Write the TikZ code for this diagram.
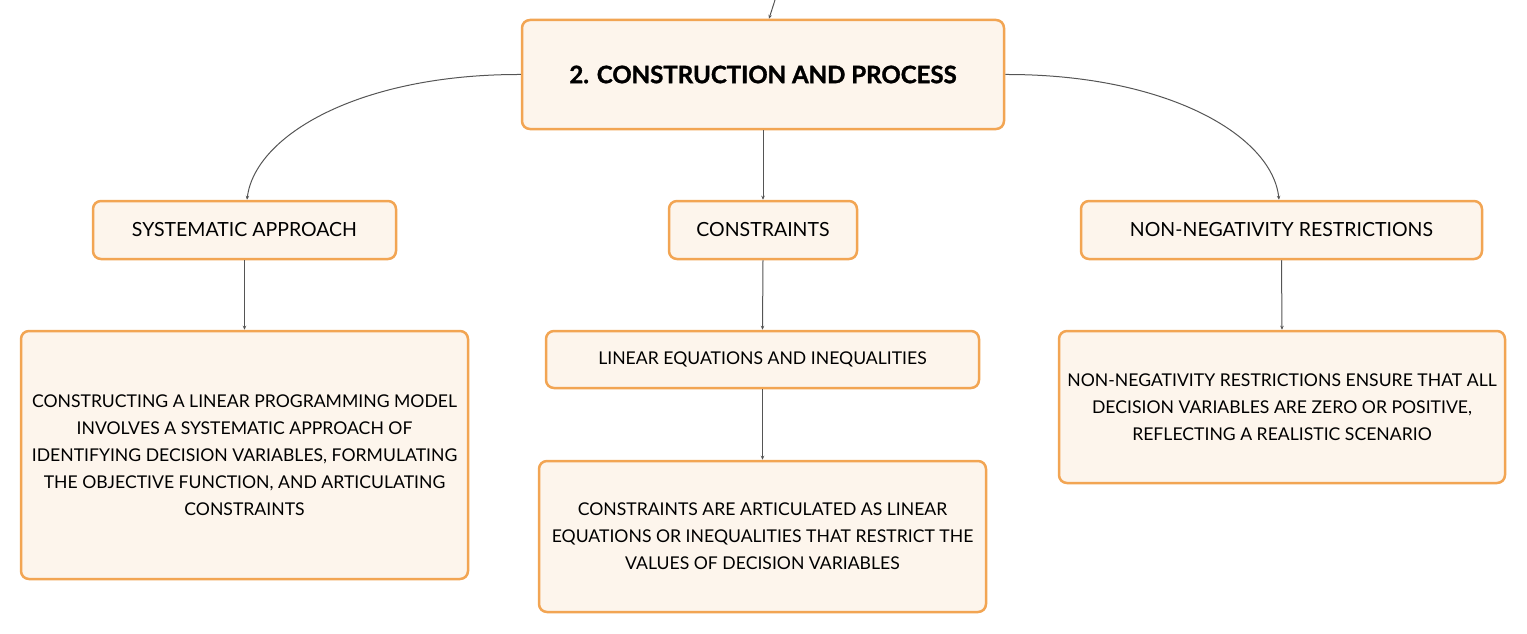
\documentclass[tikz,border=0pt]{standalone}
\usepackage{fontspec}
\setmainfont{Lato}
\newfontfamily\heavyfont[BoldFeatures={FakeBold=1.3}]{Lato}
\usetikzlibrary{arrows.meta}
\definecolor{bord}{HTML}{F2A553}
\definecolor{boxfill}{HTML}{FDF5EC}
\definecolor{connc}{HTML}{555555}
\begin{document}
\begin{tikzpicture}[x=1pt,y=-1pt,
  box/.style={draw=bord, fill=boxfill, line width=2.5pt, rounded corners=8pt, align=center, inner sep=0pt, text=black},
  lbl/.style={box, minimum height=58, font=\fontsize{19.5}{23}\selectfont},
  body/.style={box, font=\fontsize{17.6}{27}\selectfont},
  conn/.style={draw=connc, line width=1pt, -{Stealth[length=4pt,width=3.5pt]}}]
\useasboundingbox (0,0) rectangle (1527,634);
\node[box, minimum width=482, minimum height=109, font=\heavyfont\bfseries\fontsize{24}{28}\selectfont] (main) at (763,74.5) {2. CONSTRUCTION AND PROCESS};
\node[lbl, minimum width=303] (sa) at (244.5,230) {SYSTEMATIC APPROACH};
\node[lbl, minimum width=188] (cons) at (763,230) {CONSTRAINTS};
\node[lbl, minimum width=401] (nn) at (1281.5,230) {NON-NEGATIVITY RESTRICTIONS};
\node[body, minimum width=447, minimum height=248] (sad) at (244.5,455) {CONSTRUCTING A LINEAR PROGRAMMING MODEL\\INVOLVES A SYSTEMATIC APPROACH OF\\IDENTIFYING DECISION VARIABLES, FORMULATING\\THE OBJECTIVE FUNCTION, AND ARTICULATING\\CONSTRAINTS};
\node[body, minimum width=433, minimum height=57] (lin) at (762.5,359.5) {LINEAR EQUATIONS AND INEQUALITIES};
\node[body, minimum width=447, minimum height=151] (consd) at (762.5,536.5) {CONSTRAINTS ARE ARTICULATED AS LINEAR\\EQUATIONS OR INEQUALITIES THAT RESTRICT THE\\VALUES OF DECISION VARIABLES};
\node[body, minimum width=446, minimum height=152] (nnd) at (1282,407) {NON-NEGATIVITY RESTRICTIONS ENSURE THAT ALL\\DECISION VARIABLES ARE ZERO OR POSITIVE,\\REFLECTING A REALISTIC SCENARIO};
\coordinate (top) at (775,0);
\draw[conn] (top) -- ([xshift=6pt]main.north);
\draw[conn] (main.west) .. controls (360,74) and (255,135) .. ([xshift=2.5pt]sa.north);
\draw[conn] (main.east) .. controls (1166,74) and (1272,135) .. ([xshift=-2.5pt]nn.north);
\draw[conn] (main.south) -- (cons.north);
\draw[conn] (sa.south) -- (sad.north);
\draw[conn] (cons.south) -- (lin.north);
\draw[conn] (lin.south) -- (consd.north);
\draw[conn] (nn.south) -- (nnd.north);
\end{tikzpicture}
\end{document}
